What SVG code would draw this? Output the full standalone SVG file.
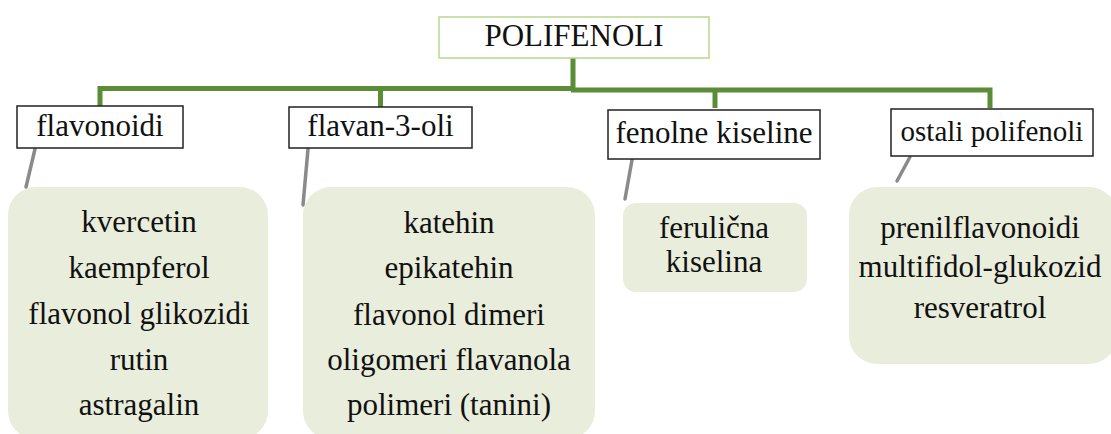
<svg xmlns="http://www.w3.org/2000/svg" width="1111" height="434" viewBox="0 0 1111 434">
<style>
text{font-family:'Liberation Serif','Times New Roman',Times,'DejaVu Serif',serif;font-size:31px;fill:#111;text-anchor:middle}
.hdr{fill:#fff;stroke:#222;stroke-width:1.5}
.box{fill:#e9eddc;stroke:none}
.g{stroke:#5b8c36;stroke-width:5;fill:none}
.k{stroke:#8a8a8a;stroke-width:3.5;fill:none;stroke-linecap:round}
</style>
<rect width="1111" height="434" fill="#fff"/>
<g id="connectors">
<path class="g" d="M573 58V88.5H100V107"/>
<path class="g" d="M380.5 88.5V107"/>
<path class="g" d="M571 90H990V108"/>
<path class="g" d="M715 90V108"/>
<line class="k" x1="35" y1="149" x2="26" y2="187"/>
<line class="k" x1="308" y1="149" x2="303" y2="205"/>
<line class="k" x1="632" y1="160" x2="625" y2="199"/>
<line class="k" x1="910" y1="157" x2="897" y2="181"/>
</g>
<g font-family="Liberation Serif, Times New Roman, serif">
<g id="root">
<rect x="439" y="17" width="270" height="41" fill="#fff" stroke="#b8d98e" stroke-width="1.5"/>
<text x="574" y="46">POLIFENOLI</text>
</g>
<g id="flavonoidi">
<rect class="hdr" x="17" y="106" width="166" height="42"/>
<text x="100" y="136">flavonoidi</text>
</g>
<g id="flavan3oli">
<rect class="hdr" x="289" y="107" width="183" height="41"/>
<text x="380.5" y="136">flavan-3-oli</text>
</g>
<g id="fenolne">
<rect class="hdr" x="608" y="110" width="212" height="49"/>
<text x="714" y="143">fenolne kiseline</text>
</g>
<g id="ostali">
<rect class="hdr" x="891" y="109" width="202" height="47"/>
<text x="992" y="141" style="font-size:29px">ostali polifenoli</text>
</g>
<g id="list-flavonoidi">
<rect class="box" x="8" y="187" width="260" height="252" rx="28"/>
<text x="139" y="232">kvercetin</text>
<text x="139" y="278">kaempferol</text>
<text x="139" y="324">flavonol glikozidi</text>
<text x="139" y="370">rutin</text>
<text x="139" y="415">astragalin</text>
</g>
<g id="list-flavan3oli">
<rect class="box" x="303" y="187" width="292" height="252" rx="28"/>
<text x="449" y="233">katehin</text>
<text x="449" y="278">epikatehin</text>
<text x="449" y="325">flavonol dimeri</text>
<text x="449" y="370">oligomeri flavanola</text>
<text x="449" y="415">polimeri (tanini)</text>
</g>
<g id="list-fenolne">
<rect class="box" x="623" y="203" width="184" height="89" rx="13"/>
<text x="714" y="238">ferulična</text>
<text x="714" y="272">kiselina</text>
</g>
<g id="list-ostali">
<rect class="box" x="849" y="187" width="268" height="177" rx="28"/>
<text x="980" y="238">prenilflavonoidi</text>
<text x="980" y="277">multifidol-glukozid</text>
<text x="980" y="318">resveratrol</text>
</g>
</g>
</svg>
